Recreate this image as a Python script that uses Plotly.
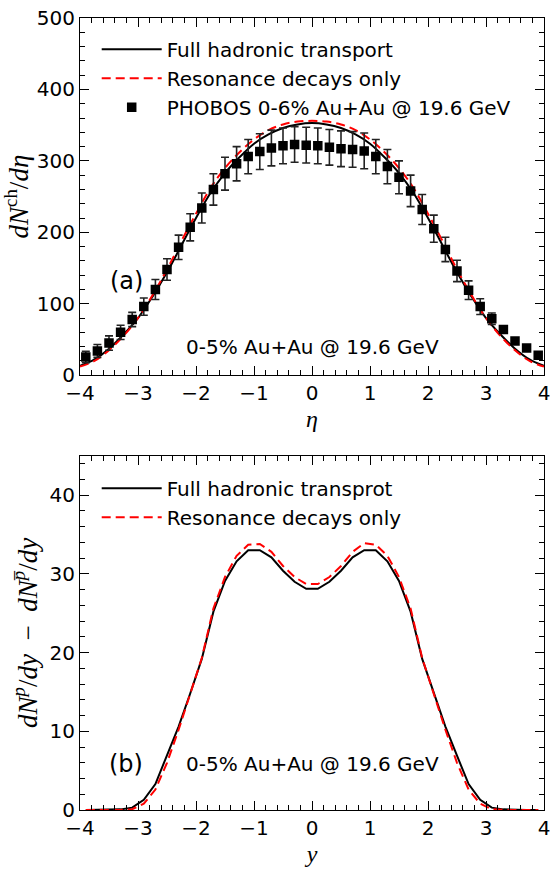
import plotly.graph_objects as go
from plotly.subplots import make_subplots

# ---------------- data: panel (a) ----------------
eta_model = [-4.0, -3.75, -3.5, -3.25, -3.0, -2.75, -2.5, -2.25, -2.0, -1.75, -1.5, -1.25,
             -1.0, -0.75, -0.5, -0.25, 0.0, 0.25, 0.5, 0.75, 1.0, 1.25, 1.5, 1.75, 2.0,
             2.25, 2.5, 2.75, 3.0, 3.25, 3.5, 3.75, 4.0]
full_ch = [13, 22, 37, 57, 80, 110, 144, 182, 220, 255, 283, 305, 324, 337, 346, 351, 353,
           351, 346, 337, 324, 305, 283, 255, 220, 182, 144, 110, 80, 57, 37, 22, 13]
res_ch = [12, 20, 35, 55, 80, 112, 148, 188, 226, 262, 290, 312, 330, 343, 351, 355, 356,
          355, 351, 343, 330, 312, 290, 262, 226, 188, 148, 112, 80, 55, 35, 20, 12]

eta_data = [-3.9, -3.7, -3.5, -3.3, -3.1, -2.9, -2.7, -2.5, -2.3, -2.1, -1.9, -1.7, -1.5,
            -1.3, -1.1, -0.9, -0.7, -0.5, -0.3, -0.1, 0.1, 0.3, 0.5, 0.7, 0.9, 1.1, 1.3,
            1.5, 1.7, 1.9, 2.1, 2.3, 2.5, 2.7, 2.9, 3.1, 3.3, 3.5, 3.7, 3.9]
phobos = [25.5, 34, 45, 60, 78, 96, 120, 148, 179, 207, 234, 260, 282, 296, 306, 313, 318,
          321, 323, 322, 321, 319, 317, 316, 314, 306, 292, 277, 258, 232, 205, 176, 146,
          119, 96, 79, 64, 48, 38, 28]
phobos_err = [8, 9, 10, 10, 10, 12, 14, 15, 17, 19, 21, 22, 23, 24, 24, 25, 25, 25, 25, 25,
              25, 25, 25, 25, 25, 24, 24, 23, 22, 21, 19, 17, 15, 13, 11, 8, 0, 0, 0, 0]

# ---------------- data: panel (b) ----------------
y_rap = [-3.9, -3.7, -3.5, -3.3, -3.1, -2.9, -2.7, -2.5, -2.3, -2.1, -1.9, -1.7, -1.5,
         -1.3, -1.1, -0.9, -0.7, -0.5, -0.3, -0.1, 0.1, 0.3, 0.5, 0.7, 0.9, 1.1, 1.3,
         1.5, 1.7, 1.9, 2.1, 2.3, 2.5, 2.7, 2.9, 3.1, 3.3, 3.5, 3.7, 3.9]
full_net = [0.0, 0.0, 0.02, 0.08, 0.3, 1.3, 3.3, 6.9, 10.6, 14.8, 19.2, 25.2, 29.1, 31.6,
            33.0, 33.0, 32.1, 30.4, 29.0, 28.1, 28.1, 29.0, 30.4, 32.1, 33.0, 33.0, 31.6,
            29.1, 25.2, 19.2, 14.8, 10.6, 6.9, 3.3, 1.3, 0.3, 0.08, 0.02, 0.0, 0.0]
res_net = [0.0, 0.0, 0.0, 0.01, 0.1, 0.8, 2.6, 6.0, 10.2, 14.6, 19.3, 25.6, 29.6, 32.3,
           33.7, 33.8, 32.8, 31.0, 29.6, 28.7, 28.7, 29.6, 31.0, 32.8, 33.9, 33.7, 32.3,
           29.6, 25.6, 19.3, 14.6, 10.2, 6.0, 2.6, 0.8, 0.1, 0.01, 0.0, 0.0, 0.0]

SANS = "DejaVu Sans"
SERIF = "Liberation Serif"

fig = make_subplots(rows=2, cols=1, vertical_spacing=0.1)

fig.add_trace(go.Scatter(x=eta_model, y=full_ch, mode="lines", line_shape="spline",
                         line=dict(color="black", width=2), name="Full hadronic transport",
                         legend="legend", legendgroup="a1"), row=1, col=1)
fig.add_trace(go.Scatter(x=eta_model, y=res_ch, mode="lines", line_shape="spline",
                         line=dict(color="red", width=2, dash="9px,5px"),
                         name="Resonance decays only", legend="legend", legendgroup="a2"),
              row=1, col=1)
fig.add_trace(go.Scatter(x=eta_data, y=phobos, mode="markers",
                         marker=dict(symbol="square", size=9.5, color="black"),
                         error_y=dict(type="data", array=phobos_err, visible=True,
                                      color="#222", thickness=1.6, width=4),
                         name="PHOBOS 0-6% Au+Au @ 19.6 GeV", legend="legend",
                         legendgroup="a3"), row=1, col=1)

fig.add_trace(go.Scatter(x=y_rap, y=full_net, mode="lines",
                         line=dict(color="black", width=2), name="Full hadronic transprot",
                         legend="legend2", legendgroup="b1"), row=2, col=1)
fig.add_trace(go.Scatter(x=y_rap, y=res_net, mode="lines",
                         line=dict(color="red", width=2, dash="9px,5px"),
                         name="Resonance decays only", legend="legend2", legendgroup="b2"),
              row=2, col=1)

axis_common = dict(showline=True, linecolor="black", linewidth=1, mirror="ticks",
                   ticks="inside", ticklen=9, tickwidth=1, tickcolor="black",
                   showgrid=False, zeroline=False,
                   tickfont=dict(family=SANS, size=20, color="black"))

fig.update_xaxes(range=[-4, 4], dtick=1, tick0=0,
                 minor=dict(dtick=0.2, ticks="inside", ticklen=5, tickcolor="black"),
                 **axis_common)
fig.update_xaxes(title=dict(text="<i>η</i>", font=dict(family=SERIF, size=24), standoff=6),
                 row=1, col=1)
fig.update_xaxes(title=dict(text="<i>y</i>", font=dict(family=SERIF, size=24), standoff=6),
                 row=2, col=1)

fig.update_yaxes(range=[0, 500], dtick=100, tick0=0,
                 minor=dict(dtick=20, ticks="inside", ticklen=5, tickcolor="black"),
                 title=dict(text="<i>dN</i><sup>ch</sup>/<i>dη</i>",
                            font=dict(family=SERIF, size=27), standoff=4),
                 domain=[0.549, 1.0], row=1, col=1, **axis_common)
fig.update_yaxes(range=[0, 45], dtick=10, tick0=0,
                 minor=dict(dtick=2, ticks="inside", ticklen=5, tickcolor="black"),
                 title=dict(text="<i>dN</i><sup><i>p</i></sup>/<i>dy</i>&nbsp; − &nbsp;<i>dN</i><sup><i>p̅</i></sup>/<i>dy</i>",
                            font=dict(family=SERIF, size=27), standoff=4),
                 domain=[0.0, 0.4472], row=2, col=1, **axis_common)

fig.add_annotation(x=-3.2, y=132, xref="x", yref="y", text="(a)", showarrow=False,
                   font=dict(family=SANS, size=24, color="black"))
fig.add_annotation(x=0, y=39, xref="x", yref="y", text="0-5% Au+Au @ 19.6 GeV",
                   showarrow=False, font=dict(family=SANS, size=20, color="black"))
fig.add_annotation(x=-3.2, y=5.9, xref="x2", yref="y2", text="(b)", showarrow=False,
                   font=dict(family=SANS, size=24, color="black"))
fig.add_annotation(x=0, y=5.8, xref="x2", yref="y2", text="0-5% Au+Au @ 19.6 GeV",
                   showarrow=False, font=dict(family=SANS, size=20, color="black"))

legend_common = dict(font=dict(family=SANS, size=20, color="black"), bgcolor="rgba(0,0,0,0)",
                     borderwidth=0, xanchor="left", yanchor="top", itemwidth=60,
                     traceorder="grouped", tracegroupgap=0)
fig.update_layout(
    width=556, height=869,
    margin=dict(l=80, r=6, t=18, b=46),
    paper_bgcolor="white", plot_bgcolor="white",
    font=dict(family=SANS, size=20, color="black"),
    showlegend=True,
    legend=dict(x=0.036, y=0.9851, **legend_common),
    legend2=dict(x=0.036, y=0.4310, **legend_common),
)

fig.write_html("out.html")
